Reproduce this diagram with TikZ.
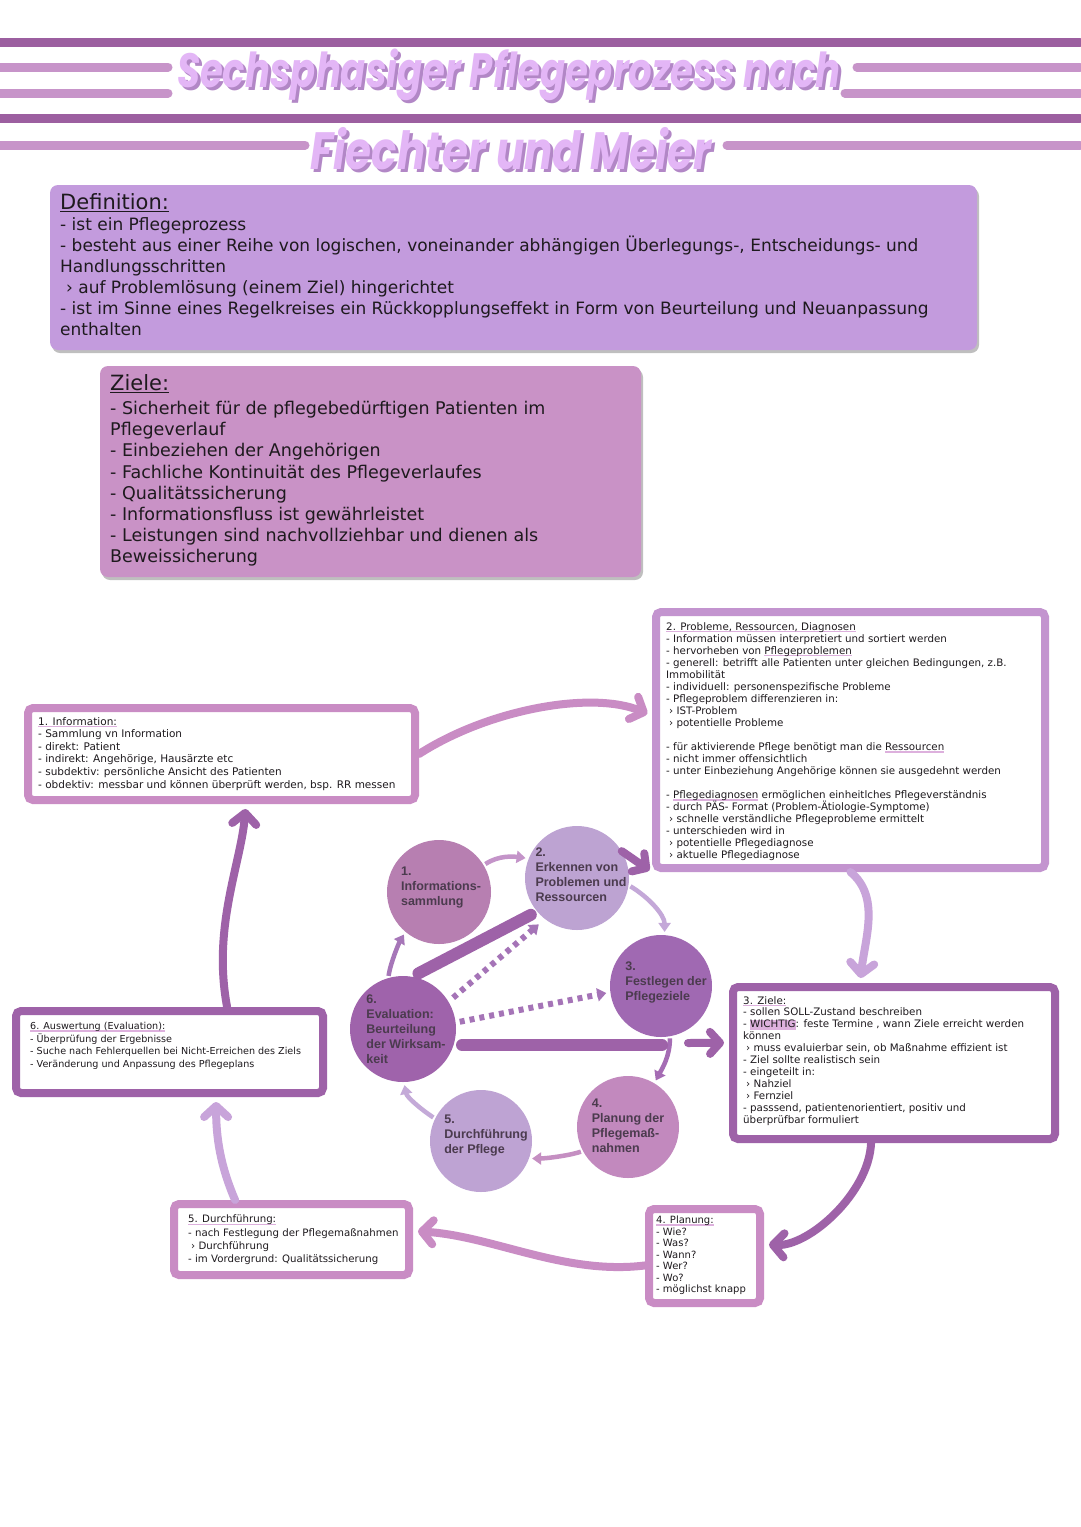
\documentclass[tikz,border=0pt]{standalone}
\usepackage{fontspec}
\setmainfont{DejaVu Sans}
\newfontfamily\titlefont{Poppins}
\newfontfamily\circfont{Liberation Sans}
\usetikzlibrary{arrows.meta,shadows}
\definecolor{ink}{HTML}{1E1A1E}
\definecolor{darkstripe}{HTML}{9C5FA0}
\definecolor{lightstripe}{HTML}{C794C9}
\definecolor{titlefg}{HTML}{E3B6F6}
\definecolor{titlesh}{HTML}{B287C6}
\definecolor{defbg}{HTML}{C39BDD}
\definecolor{zielbg}{HTML}{C992C6}
\definecolor{purp}{HTML}{9E62A8}
\definecolor{lav}{HTML}{C8A4DA}
\definecolor{pinkm}{HTML}{C98CC4}
\definecolor{lavb}{HTML}{C394CF}
\definecolor{hlpink}{HTML}{DDB0DD}
\definecolor{ctext}{HTML}{4B3B4E}
\definecolor{cA}{HTML}{B77FB1}
\definecolor{cB}{HTML}{BDA3D2}
\definecolor{cC}{HTML}{A069B2}
\definecolor{cD}{HTML}{C289BE}
\definecolor{cE}{HTML}{BEA3D3}
\definecolor{cF}{HTML}{9F63AB}
\definecolor{aAB}{HTML}{C494C9}
\definecolor{aBC}{HTML}{C4A8D8}
\definecolor{aCD}{HTML}{A56CB4}
\definecolor{aDE}{HTML}{C58FC2}
\definecolor{aEF}{HTML}{C4AAD8}
\definecolor{aFA}{HTML}{A676B8}
\definecolor{dotcol}{HTML}{A574B7}
\newcommand\myul[1]{\setbox0\hbox{#1}\rlap{\textcolor{hlpink}{\rule[-2.2pt]{\wd0}{1.6pt}}}\box0\relax}
\newcommand\myhl[1]{\setbox0\hbox{#1}\rlap{\textcolor{hlpink}{\rule[-2pt]{\wd0}{10pt}}}\box0\relax}
\begin{document}
\begin{tikzpicture}[x=1pt,y=-1pt,
  stripe/.style={line width=9pt,line cap=round},
  titletext/.style={font=\titlefont\bfseries\itshape\fontsize{37}{37}\selectfont,inner sep=0},
  titletextb/.style={font=\titlefont\bfseries\itshape\fontsize{42}{42}\selectfont,inner sep=0},
  bigbox/.style={rounded corners=8pt,inner sep=0,drop shadow={shadow xshift=2pt,shadow yshift=-3pt,opacity=0.25,fill=black}},
  infobox/.style={draw,line width=8pt,rounded corners=5pt,fill=white,inner sep=0},
  headtext/.style={font=\fontsize{21}{24}\selectfont,text=ink,inner sep=0,anchor=north west},
  bodytext/.style={text=ink,inner sep=0,anchor=north west,align=left},
  circ/.style={circle,inner sep=0,minimum size=104pt},
  ctxt/.style={font=\circfont\bfseries\fontsize{12.5}{15}\selectfont,align=left,text=ctext,inner sep=0},
  bigarrow/.style={line width=8pt,line cap=round,shorten >=5pt,-{Straight Barb[length=11pt,width=24pt,round]}},
  chev/.style={line width=8pt,line cap=round,-{Straight Barb[length=10pt,width=22pt,round]}},
  thinarrow/.style={line width=4.5pt,shorten >=3pt,shorten <=2pt,-{Triangle[length=9pt,width=12pt]}},
  dotarrow/.style={line width=6pt,dash pattern=on 5pt off 5pt,color=dotcol,-{Triangle[length=9pt,width=13pt]}},
  barline/.style={line width=12pt,line cap=round,color=purp}
]
\useasboundingbox (0,0) rectangle (1080,1527);
\fill[white] (0,0) rectangle (1080,1527);

% stripes
\draw[stripe,darkstripe] (0,42) -- (1080,42);
\draw[stripe,lightstripe] (0,67) -- (168,67);
\draw[stripe,lightstripe] (857,67) -- (1080,67);
\draw[stripe,lightstripe] (0,93) -- (168,93);
\draw[stripe,lightstripe] (845,93) -- (1080,93);
\draw[stripe,darkstripe] (0,118) -- (1080,118);
\draw[stripe,lightstripe] (0,145) -- (305,145);
\draw[stripe,lightstripe] (727,145) -- (1080,145);

% title
\node[titletext,text=titlesh] (t1s) at (512,78) {\scalebox{1}[1.3]{Sechsphasiger Pflegeprozess nach}};
\node[titletext,text=titlefg] (t1) at (509,75) {\scalebox{1}[1.3]{Sechsphasiger Pflegeprozess nach}};
\node[titletextb,text=titlesh] (t2s) at (514,152) {\scalebox{1}[1.25]{Fiechter und Meier}};
\node[titletextb,text=titlefg] (t2) at (511,149) {\scalebox{1}[1.25]{Fiechter und Meier}};

% definition box
\node[bigbox,fill=defbg,minimum width=927pt,minimum height=165pt] (def) at (513.5,267.5) {};
\node[headtext] (defh) at (60,193) {\underline{Definition:}};
\node[bodytext,font=\fontsize{17}{21}\selectfont] (deft) at (60,217) {- ist ein Pflegeprozess\\
- besteht aus einer Reihe von logischen, voneinander abhängigen Überlegungs-, Entscheidungs- und\\
Handlungsschritten\\
\hspace*{6pt}› auf Problemlösung (einem Ziel) hingerichtet\\
- ist im Sinne eines Regelkreises ein Rückkopplungseffekt in Form von Beurteilung und Neuanpassung\\
enthalten};

% ziele box
\node[bigbox,fill=zielbg,minimum width=541pt,minimum height=211pt] (ziel) at (370.5,471.5) {};
\node[headtext] (zielh) at (110,374) {\underline{Ziele:}};
\node[bodytext,font=\fontsize{17.5}{21.2}\selectfont] (zielt) at (110,401) {- Sicherheit für de pflegebedürftigen Patienten im\\
Pflegeverlauf\\
- Einbeziehen der Angehörigen\\
- Fachliche Kontinuität des Pflegeverlaufes\\
- Qualitätssicherung\\
- Informationsfluss ist gewährleistet\\
- Leistungen sind nachvollziehbar und dienen als\\
Beweissicherung};

% info boxes
\node[infobox,draw=pinkm,minimum width=387pt,minimum height=92pt] (b1) at (221.5,754) {};
\node[infobox,draw=lavb,minimum width=389pt,minimum height=256pt] (b2) at (850.5,740) {};
\node[infobox,draw=purp,minimum width=322pt,minimum height=152pt] (b3) at (894,1063) {};
\node[infobox,draw=pinkm,minimum width=111pt,minimum height=94pt] (b4) at (704.5,1256) {};
\node[infobox,draw=pinkm,minimum width=235pt,minimum height=71pt] (b5) at (291.5,1239.5) {};
\node[infobox,draw=purp,minimum width=307pt,minimum height=82pt] (b6) at (169.5,1052) {};

\node[bodytext,font=\fontsize{10.5}{12.6}\selectfont] (b1t) at (38,717) {\myul{1. Information:}\\
- Sammlung vn Information\\
- direkt: Patient\\
- indirekt: Angehörige, Hausärzte etc\\
- subdektiv: persönliche Ansicht des Patienten\\
- obdektiv: messbar und können überprüft werden, bsp. RR messen};

\node[bodytext,font=\fontsize{10.3}{12.05}\selectfont] (b2t) at (666,622) {\myul{2. Probleme, Ressourcen, Diagnosen}\\
- Information müssen interpretiert und sortiert werden\\
- hervorheben von \myul{Pflegeproblemen}\\
- generell: betrifft alle Patienten unter gleichen Bedingungen, z.B.\\
Immobilität\\
- individuell: personenspezifische Probleme\\
- Pflegeproblem differenzieren in:\\
\hspace*{3pt}› IST-Problem\\
\hspace*{3pt}› potentielle Probleme\\[12.05pt]
- für aktivierende Pflege benötigt man die \myul{Ressourcen}\\
- nicht immer offensichtlich\\
- unter Einbeziehung Angehörige können sie ausgedehnt werden\\[12.05pt]
- \myul{Pflegediagnosen} ermöglichen einheitlches Pflegeverständnis\\
- durch PÄS- Format (Problem-Ätiologie-Symptome)\\
\hspace*{3pt}› schnelle verständliche Pflegeprobleme ermittelt\\
- unterschieden wird in\\
\hspace*{3pt}› potentielle Pflegediagnose\\
\hspace*{3pt}› aktuelle Pflegediagnose};

\node[bodytext,font=\fontsize{10.3}{11.9}\selectfont] (b3t) at (743,996) {\myul{3. Ziele:}\\
- sollen SOLL-Zustand beschreiben\\
- \myhl{WICHTIG}: feste Termine , wann Ziele erreicht werden\\
können\\
\hspace*{3pt}› muss evaluierbar sein, ob Maßnahme effizient ist\\
- Ziel sollte realistisch sein\\
- eingeteilt in:\\
\hspace*{3pt}› Nahziel\\
\hspace*{3pt}› Fernziel\\
- passsend, patientenorientiert, positiv und\\
überprüfbar formuliert};

\node[bodytext,font=\fontsize{10}{11.5}\selectfont] (b4t) at (656,1216) {\myul{4. Planung:}\\
- Wie?\\
- Was?\\
- Wann?\\
- Wer?\\
- Wo?\\
- möglichst knapp};

\node[bodytext,font=\fontsize{10.2}{13.3}\selectfont] (b5t) at (188,1215) {\myul{5. Durchführung:}\\
- nach Festlegung der Pflegemaßnahmen\\
\hspace*{3pt}› Durchführung\\
- im Vordergrund: Qualitätssicherung};

\node[bodytext,font=\fontsize{9.6}{12.7}\selectfont] (b6t) at (30,1022) {\myul{6. Auswertung (Evaluation):}\\
- Überprüfung der Ergebnisse\\
- Suche nach Fehlerquellen bei Nicht-Erreichen des Ziels\\
- Veränderung und Anpassung des Pflegeplans};

% big arrows between boxes
\draw[bigarrow,pinkm] (b1.east) .. controls +(70,-45) and +(-60,-25) .. (b2.173.5);
\draw[bigarrow,lav] (b2.south) .. controls +(30,25) and +(5,-45) .. (b3.113);
\draw[bigarrow,purp] (b3.254) .. controls +(-2,50) and +(45,2) .. (b4.11);
\draw[bigarrow,pinkm] (b4.189) .. controls +(-80,10) and +(80,5) .. (b5.4);
\draw[bigarrow,lav] (b5.145) .. controls +(-15,-35) and +(0,40) .. (b6.316);
\draw[bigarrow,purp] (b6.38) .. controls +(-15,-80) and +(-5,60) .. (b1.296);

% circles
\node[circ,fill=cA] (c1) at (439,892) {};
\node[circ,fill=cB] (c2) at (577,878) {};
\node[circ,fill=cC,minimum size=102pt] (c3) at (661,986) {};
\node[circ,fill=cD,minimum size=102pt] (c4) at (628,1127) {};
\node[circ,fill=cE,minimum size=102pt] (c5) at (481,1141) {};
\node[circ,fill=cF,minimum size=106pt] (c6) at (403,1029) {};
\node[ctxt] (c1t) at (441,888) {1.\\Informations-\\sammlung};
\node[ctxt] (c2t) at (581,875) {2.\\Erkennen von\\Problemen und\\Ressourcen};
\node[ctxt] (c3t) at (666,982) {3.\\Festlegen der\\Pflegeziele};
\node[ctxt] (c4t) at (628,1126) {4.\\Planung der\\Pflegemaß-\\nahmen};
\node[ctxt] (c5t) at (486,1136) {5.\\Durchführung\\der Pflege};
\node[ctxt] (c6t) at (406,1029) {6.\\Evaluation:\\Beurteilung\\der Wirksam-\\keit};

% cycle arrows
\draw[thinarrow,aAB] (c1.31) .. controls +(15,-10) and +(-15,-2) .. (c2.158);
\draw[thinarrow,aBC] (c2.-8) .. controls +(20,12) and +(0,-20) .. (c3.86);
\draw[thinarrow,aCD] (c3.-80) .. controls +(0,20) and +(8,-15) .. (c4.59);
\draw[thinarrow,aDE] (c4.208) .. controls +(-15,5) and +(15,0) .. (c5.340);
\draw[thinarrow,aEF] (c5.154) .. controls +(-15,-10) and +(3,15) .. (c6.271);
\draw[thinarrow,aFA] (c6.106) .. controls +(2,-15) and +(-6,10) .. (c1.230);

% cross connections
\draw[barline,shorten <=7pt,shorten >=7pt] (c6.80) -- (c2.220);
\draw[dotarrow,shorten <=6pt,shorten >=8pt] (c6.31) -- (c2.232);
\draw[dotarrow,shorten <=4pt,shorten >=4pt] (c6.7) -- (c3.187);
\coordinate (hbS) at (462,1045);
\coordinate (hbE) at (662,1045);
\draw[barline] (hbS) -- (hbE);
\coordinate (arS) at (688,1043);
\draw[chev,purp,shorten >=5pt] (arS) -- (b3.173);
\draw[chev,purp,shorten >=3pt] (c2.31) -- (b2.south west);
\end{tikzpicture}
\end{document}
